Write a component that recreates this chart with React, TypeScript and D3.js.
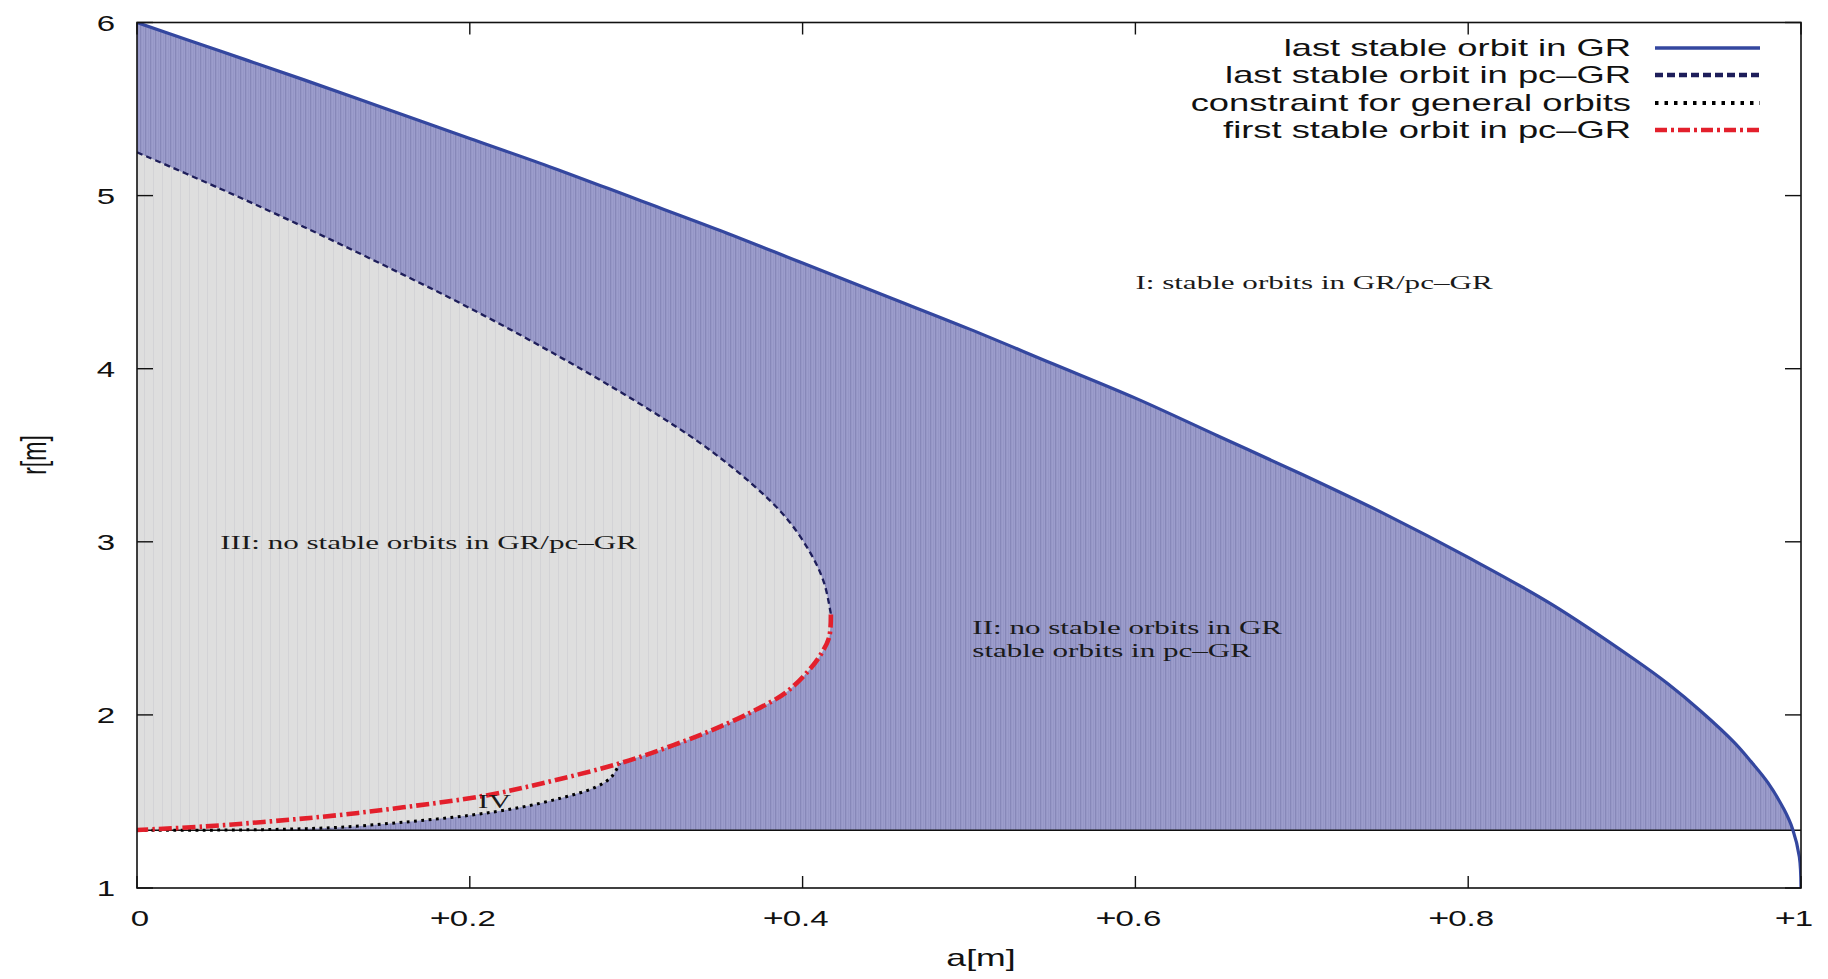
import React from "react";
import * as d3 from "d3";

// ---------- data ----------
const xTicks = [0, 0.2, 0.4, 0.6, 0.8, 1];
const xTickLabels = ["0", "+0.2", "+0.4", "+0.6", "+0.8", "+1"];
const yTicks = [1, 2, 3, 4, 5, 6];
const yTickLabels = ["1", "2", "3", "4", "5", "6"];

// last stable orbit in GR
const grA = [0, 0.05, 0.1, 0.15, 0.2, 0.25, 0.3, 0.35, 0.4, 0.45, 0.5, 0.55, 0.6, 0.65, 0.7, 0.75, 0.8, 0.85, 0.9, 0.92, 0.94, 0.96, 0.97, 0.98, 0.99, 0.995, 0.999, 1.0];
const grR = [6.0, 5.835, 5.67, 5.5, 5.33, 5.16, 4.98, 4.8, 4.61, 4.42, 4.23, 4.03, 3.83, 3.61, 3.39, 3.16, 2.91, 2.64, 2.32, 2.18, 2.02, 1.84, 1.73, 1.61, 1.45, 1.34, 1.18, 1.0];

// last stable orbit in pc-GR
const pcLastA = [0, 0.05, 0.1, 0.15, 0.2, 0.25, 0.3, 0.34, 0.37, 0.39, 0.405, 0.413, 0.417];
const pcLastR = [5.25, 5.04, 4.82, 4.59, 4.35, 4.09, 3.81, 3.56, 3.33, 3.14, 2.93, 2.76, 2.58];

// first stable orbit in pc-GR
const pcFirstA = [0.417, 0.416, 0.411, 0.404, 0.39, 0.37, 0.345, 0.318, 0.29, 0.25, 0.21, 0.16, 0.12, 0.08, 0.04, 0];
const pcFirstR = [2.58, 2.45, 2.35, 2.26, 2.13, 2.02, 1.91, 1.81, 1.72, 1.62, 1.535, 1.466, 1.42, 1.385, 1.355, 1.335];

// constraint for general orbits
const consA = [0, 0.04, 0.08, 0.12, 0.16, 0.2, 0.23, 0.255, 0.275, 0.285, 0.29];
const consR = [1.333, 1.334, 1.338, 1.35, 1.38, 1.42, 1.465, 1.52, 1.58, 1.64, 1.72];

const rFloor = 4 / 3;

const legendLabels = [
  "last stable orbit in GR",
  "last stable orbit in pc\u2013GR",
  "constraint for general orbits",
  "first stable orbit in pc\u2013GR",
];

const regionLabels = [
  { a: 0.6, r: 4.46, lines: ["I: stable orbits in GR/pc\u2013GR"] },
  { a: 0.05, r: 2.96, lines: ["III: no stable orbits in GR/pc\u2013GR"] },
  { a: 0.502, r: 2.47, lines: ["II: no stable orbits in GR", "stable orbits in pc\u2013GR"] },
  { a: 0.205, r: 1.46, lines: ["IV"] },
];

// ---------- layout ----------
const W = 1828;
const H = 979;
const L = 137;
const R = 1801;
const T = 22.5;
const B = 888;

const SANS = "'Liberation Sans', Arial, Helvetica, sans-serif";
const SERIF = "'Liberation Serif', 'Times New Roman', serif";
const SX = 1.55;
const SX_SERIF = 1.68;

const arialW: Record<string, number> = { "0": 0.556, "1": 0.556, "2": 0.556, "4": 0.556, "6": 0.556, "8": 0.556, ".": 0.278, "+": 0.584 };

const x = d3.scaleLinear().domain([0, 1]).range([L, R]);
const y = d3.scaleLinear().domain([1, 6]).range([B, T]);

type P = [number, number];
const zip = (a: number[], r: number[]): P[] => a.map((v, i) => [v, r[i]]);

const grPts = zip(grA, grR);
const pcLastPts = zip(pcLastA, pcLastR);
const pcFirstPts = zip(pcFirstA, pcFirstR);
const consPts = zip(consA, consR);

const lineGen = d3
  .line<P>()
  .x((d) => x(d[0]))
  .y((d) => y(d[1]))
  .curve(d3.curveCatmullRom.alpha(0.5));

const areaGen = d3
  .area<P>()
  .x((d) => x(d[0]))
  .y0(() => y(rFloor))
  .y1((d) => y(d[1]))
  .curve(d3.curveCatmullRom.alpha(0.5));

function grayPath() {
  const p1 = lineGen(pcLastPts) || "";
  const redPart = pcFirstPts.filter((d) => d[0] >= 0.29);
  const p2 = (lineGen(redPart) || "").replace(/^M/, "L");
  const p3 = (lineGen(consPts.slice().reverse()) || "").replace(/^M/, "L");
  return p1 + p2 + p3 + "Z";
}

function SText(props: {
  x: number;
  y: number;
  sx: number;
  anchor?: string;
  size: number;
  family: string;
  children: React.ReactNode;
  rotate?: number;
  fill?: string;
}) {
  const rot = props.rotate ? ` rotate(${props.rotate})` : "";
  return (
    <text
      transform={`translate(${props.x},${props.y}) scale(${props.sx},1)${rot}`}
      textAnchor={props.anchor || "start"}
      fontSize={props.size}
      fontFamily={props.family}
      fill={props.fill || "#111"}
    >
      {props.children}
    </text>
  );
}

export default function App() {
  const tickFs = 22;
  const tickSx = 1.5;
  const legFs = 23;
  const legX0 = 1655;
  const legX1 = 1760;
  const legTextX = 1631;
  const legBase = [56, 83, 111, 138];
  const serifFs = 18.5;

  const legendStyles = [
    { stroke: "#34479f", width: 3.5, dash: "none" },
    { stroke: "#1e1e5a", width: 4.5, dash: "8 4" },
    { stroke: "#000", width: 4, dash: "3.5 6" },
    { stroke: "#e3202c", width: 4.5, dash: "12 4 3 4" },
  ];

  return (
    <svg
      width={W}
      height={H}
      style={{ position: "absolute", left: 0, top: 0, display: "block", background: "#fff" }}
    >
      <defs>
        <pattern id="stripeBlue" width={5} height={10} patternUnits="userSpaceOnUse">
          <rect width={5} height={10} fill="#9c9dcc" />
          <rect x={0} width={1.3} height={10} fill="#8788b9" />
          <rect x={3} width={0.6} height={10} fill="#9192c2" />
        </pattern>
        <pattern id="stripeGray" width={9} height={10} patternUnits="userSpaceOnUse">
          <rect width={9} height={10} fill="#dedede" />
          <rect x={0} width={1} height={10} fill="#d3d3d6" />
        </pattern>
        <clipPath id="aboveFloor">
          <rect x={L} y={T} width={R - L} height={y(rFloor) - T} />
        </clipPath>
        <clipPath id="plotArea">
          <rect x={L} y={T} width={R - L} height={B - T} />
        </clipPath>
      </defs>

      {/* fills */}
      <g clipPath="url(#aboveFloor)">
        <path d={areaGen(grPts) || ""} fill="url(#stripeBlue)" />
      </g>
      <path d={grayPath()} fill="url(#stripeGray)" />

      {/* floor line r = 4/3 */}
      <line x1={L} x2={R} y1={y(rFloor)} y2={y(rFloor)} stroke="#111" strokeWidth={1.6} />

      {/* curves */}
      <g clipPath="url(#plotArea)" fill="none">
        <path d={lineGen(grPts) || ""} stroke="#34479f" strokeWidth={3.2} />
        <path d={lineGen(consPts) || ""} stroke="#000" strokeWidth={3} strokeDasharray="2.8 4.5" />
        <path d={lineGen(pcLastPts) || ""} stroke="#1e1e5a" strokeWidth={2.3} strokeDasharray="6 4" />
        <path d={lineGen(pcFirstPts) || ""} stroke="#e3202c" strokeWidth={4.6} strokeDasharray="13 4 2.5 4" />
      </g>

      {/* frame */}
      <rect x={L} y={T} width={R - L} height={B - T} fill="none" stroke="#111" strokeWidth={1.6} />

      {/* ticks */}
      {xTicks.map((t, i) => (
        <g key={"xt" + i}>
          <line x1={x(t)} x2={x(t)} y1={B} y2={B - 12} stroke="#111" strokeWidth={1.4} />
          <line x1={x(t)} x2={x(t)} y1={T} y2={T + 12} stroke="#111" strokeWidth={1.4} />
        </g>
      ))}
      {yTicks.map((t, i) => (
        <g key={"yt" + i}>
          <line x1={L} x2={L + 16} y1={y(t)} y2={y(t)} stroke="#111" strokeWidth={1.4} />
          <line x1={R} x2={R - 16} y1={y(t)} y2={y(t)} stroke="#111" strokeWidth={1.4} />
        </g>
      ))}

      {/* x tick labels */}
      {xTicks.map((t, i) => {
        const lab = xTickLabels[i];
        const plus = lab.startsWith("+");
        const num = plus ? lab.slice(1) : lab;
        const numW = num.split("").reduce((s, c) => s + (arialW[c] || 0.556), 0) * tickFs * tickSx;
        return (
          <g key={"xl" + i}>
            <SText x={x(t) + 3} y={926} sx={tickSx} anchor="middle" size={tickFs} family={SANS}>
              {num}
            </SText>
            {plus && (
              <SText x={x(t) + 3 - numW / 2 + 1} y={926} sx={tickSx} anchor="end" size={tickFs + 2} family={SANS}>
                +
              </SText>
            )}
          </g>
        );
      })}

      {/* y tick labels */}
      {yTicks.map((t, i) => (
        <SText key={"yl" + i} x={115} y={y(t) + 8} sx={tickSx} anchor="end" size={tickFs} family={SANS}>
          {yTickLabels[i]}
        </SText>
      ))}

      {/* axis titles */}
      <SText x={981} y={966} sx={SX} anchor="middle" size={23} family={SANS}>
        a[m]
      </SText>
      <text
        transform={`translate(34,455) scale(${SX},1) rotate(-90)`}
        textAnchor="middle"
        dy="0.35em"
        fontSize={23}
        fontFamily={SANS}
        fill="#111"
      >
        r[m]
      </text>

      {/* region labels */}
      {regionLabels.map((g, i) =>
        g.lines.map((ln, j) => (
          <SText
            key={"rl" + i + "_" + j}
            x={x(g.a)}
            y={y(g.r) + j * 23}
            sx={SX_SERIF}
            size={serifFs}
            family={SERIF}
            fill="#1a1a1a"
          >
            {ln}
          </SText>
        ))
      )}

      {/* legend */}
      {legendLabels.map((lab, i) => (
        <g key={"lg" + i}>
          <SText x={legTextX} y={legBase[i]} sx={1.58} anchor="end" size={legFs} family={SANS}>
            {lab}
          </SText>
          <line
            x1={legX0}
            x2={legX1}
            y1={legBase[i] - 8}
            y2={legBase[i] - 8}
            stroke={legendStyles[i].stroke}
            strokeWidth={legendStyles[i].width}
            strokeDasharray={legendStyles[i].dash}
          />
        </g>
      ))}
    </svg>
  );
}
